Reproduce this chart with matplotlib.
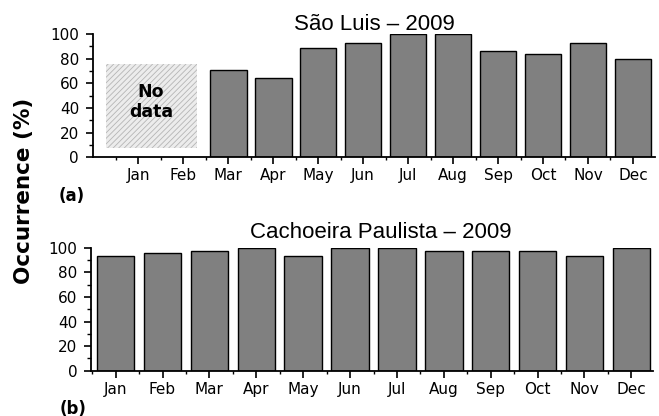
import numpy as np
import matplotlib
matplotlib.use("Agg")
import matplotlib.pyplot as plt
from matplotlib.patches import Rectangle
from matplotlib.ticker import MultipleLocator, FixedLocator

months = ["Jan", "Feb", "Mar", "Apr", "May", "Jun",
          "Jul", "Aug", "Sep", "Oct", "Nov", "Dec"]

# Sao Luis: no data for Jan/Feb
sl_months = months[2:]
sl_values = [71, 64, 89, 93, 100, 100, 86, 84, 93, 80]

# Cachoeira Paulista
cp_values = [93, 96, 97, 100, 93, 100, 100, 97, 97, 97, 93, 100]

titles = ["São Luis – 2009", "Cachoeira Paulista – 2009"]

plt.rcParams["hatch.linewidth"] = 0.6

fig = plt.figure(figsize=(6.59, 4.16), dpi=100)
ax1 = fig.add_axes([0.1411, 0.6219, 0.8528, 0.2964])
ax2 = fig.add_axes([0.1388, 0.1087, 0.8520, 0.2959])


def style_axis(ax, xlim):
    ax.set_xlim(*xlim)
    ax.set_ylim(0, 100)
    ax.spines["top"].set_visible(False)
    ax.spines["right"].set_visible(False)
    ax.spines["left"].set_linewidth(1.3)
    ax.spines["bottom"].set_linewidth(1.3)
    ax.set_xticks(range(12))
    ax.set_xticklabels(months)
    ax.xaxis.set_minor_locator(FixedLocator(np.arange(-0.5, 12, 1)))
    ax.yaxis.set_major_locator(MultipleLocator(20))
    ax.yaxis.set_minor_locator(MultipleLocator(10))
    ax.tick_params(axis="y", which="major", length=5, width=1.2,
                   labelsize=11, pad=5)
    ax.tick_params(axis="y", which="minor", length=3, width=1.0)
    ax.tick_params(axis="x", which="major", length=5, width=1.2,
                   labelsize=11, pad=3)
    ax.tick_params(axis="x", which="minor", length=2.5, width=1.0)


# (a) Sao Luis
x1 = [months.index(m) for m in sl_months]
ax1.bar(x1, sl_values, width=0.815, color="#808080",
        edgecolor="black", linewidth=1.0)
ax1.add_patch(Rectangle((-0.71, 7.8), 2.01, 67.8, facecolor="#ececec",
                        edgecolor="#b5b5b5", linewidth=0, hatch="//////"))
ax1.text(0.28, 44.8, "No\ndata", ha="center", va="center",
         fontsize=12.5, fontweight="bold", linespacing=1.1)
style_axis(ax1, (-1.007, 11.49))

# (b) Cachoeira Paulista
ax2.bar(range(12), cp_values, width=0.80, color="#808080",
        edgecolor="black", linewidth=1.0)
style_axis(ax2, (-0.516, 11.46))

fig.text(374 / 659, 1 - 30 / 416, titles[0], ha="center", va="baseline",
         fontsize=16, family="Liberation Sans")
fig.text(380.7 / 659, 1 - 238 / 416, titles[1], ha="center", va="baseline",
         fontsize=16, family="Liberation Sans")

fig.text(24 / 659, 1 - 191 / 416, "Occurrence (%)", rotation=90,
         ha="center", va="center", fontsize=15.5, fontweight="bold")
fig.text(71.5 / 659, 1 - 196 / 416, "(a)", ha="center", va="center",
         fontsize=12, fontweight="bold")
fig.text(73.5 / 659, 1 - 408.5 / 416, "(b)", ha="center", va="center",
         fontsize=12, fontweight="bold")

fig.savefig("out.png", dpi=100)
